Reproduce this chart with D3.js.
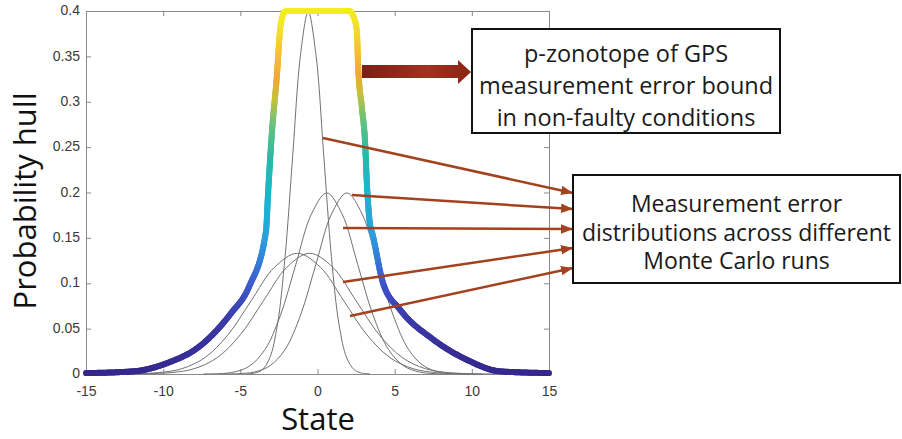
<!DOCTYPE html>
<html>
<head>
<meta charset="utf-8">
<script src="https://cdn.jsdelivr.net/npm/d3@7"></script>
<style>
  body { margin: 0; background: #fff; }
  svg text { font-family: "Open Sans", sans-serif; }
  .axis text { font-family: "Liberation Sans", Arial, sans-serif; font-size: 14px; fill: #3a3a3a; }
  .axis path, .axis line { stroke: #8a8a8a; }
</style>
</head>
<body>
<svg id="chart" width="902" height="439"></svg>
<script>

var xTicks = [-15, -10, -5, 0, 5, 10, 15]
var yTicks = [0, 0.05, 0.1, 0.15, 0.2, 0.25, 0.3, 0.35, 0.4]

// upper envelope (p-zonotope hull)
var hullX = [-15, -11.9, -9.75, -7.6, -5.6, -4.44, -3.34, -3.2, -2.95, -2.63, -2.43, -2.25, -2.05,
             2.05, 2.3, 2.55, 2.63, 2.88, 3.08, 3.2, 3.4, 3.55, 4.25, 5.35, 7.5, 9.7, 11.8, 15]
var hullY = [0.001, 0.003, 0.012, 0.031, 0.067, 0.096, 0.157, 0.2, 0.267, 0.329, 0.378, 0.395, 0.4,
             0.4, 0.395, 0.378, 0.34, 0.293, 0.256, 0.21, 0.165, 0.155, 0.1, 0.071, 0.038, 0.0155, 0.003, 0.001]

// thin curves: error distributions of the Monte Carlo runs
var runX = [
  [-4.6, -4.1, -3.6, -3.1, -2.6, -2.1, -1.6, -1.1, -0.6, -0.1, 0.4, 0.9, 1.4, 1.9, 2.4, 2.9, 3.4],
  [-7.4, -6.4, -5.4, -4.4, -3.4, -2.4, -1.4, -0.4, 0.6, 1.6, 2.6, 3.6, 4.6, 5.6, 6.6, 7.6, 8.6],
  [-6.1, -5.1, -4.1, -3.1, -2.1, -1.1, -0.1, 0.9, 1.9, 2.9, 3.9, 4.9, 5.9, 6.9, 7.9, 8.9, 9.9],
  [-13.3, -11.8, -10.3, -8.8, -7.3, -5.8, -4.3, -2.8, -1.3, 0.2, 1.7, 3.2, 4.7, 6.2, 7.7, 9.2, 10.7],
  [-12.5, -11, -9.5, -8, -6.5, -5, -3.5, -2, -0.5, 1, 2.5, 4, 5.5, 7, 8.5, 10, 11.5]
]
var runY = [
  [0.0001, 0.0009, 0.0044, 0.0175, 0.054, 0.1295, 0.242, 0.352, 0.399, 0.352, 0.242, 0.1295, 0.054, 0.0175, 0.0044, 0.0009, 0.0001],
  [0.0001, 0.0004, 0.0022, 0.0088, 0.027, 0.0648, 0.121, 0.176, 0.1995, 0.176, 0.121, 0.0648, 0.027, 0.0088, 0.0022, 0.0004, 0.0001],
  [0.0001, 0.0004, 0.0022, 0.0088, 0.027, 0.0648, 0.121, 0.176, 0.1995, 0.176, 0.121, 0.0648, 0.027, 0.0088, 0.0022, 0.0004, 0.0001],
  [0, 0.0003, 0.0015, 0.0058, 0.018, 0.0432, 0.0807, 0.1174, 0.133, 0.1174, 0.0807, 0.0432, 0.018, 0.0058, 0.0015, 0.0003, 0],
  [0, 0.0003, 0.0015, 0.0058, 0.018, 0.0432, 0.0807, 0.1174, 0.133, 0.1174, 0.0807, 0.0432, 0.018, 0.0058, 0.0015, 0.0003, 0]
]

var boxTop = ['p-zonotope of GPS', 'measurement error bound', 'in non-faulty conditions']
var boxRuns = ['Measurement error', 'distributions across different', 'Monte Carlo runs']


var svg = d3.select('#chart')
var pLeft = 86, pRight = 549, pTop = 11, pBottom = 374

var x = d3.scaleLinear().domain([-15, 15]).range([pLeft, pRight])
var y = d3.scaleLinear().domain([0, 0.4]).range([pBottom, pTop])

// parula-ish colours along the height of the hull
var color = d3.scaleLinear()
  .domain([0, 0.06, 0.1, 0.15, 0.2, 0.24, 0.28, 0.305, 0.33, 0.36, 0.385, 0.4])
  .range(['#35278c', '#3a3aa8', '#3e58cc', '#2b9fe0', '#18b8cc', '#25bba8', '#6ec27a',
          '#c2c23c', '#f4a834', '#f6c632', '#f3e42a', '#f3ee1c'])

var defs = svg.append('defs')
defs.append('marker')
  .attr('id', 'head')
  .attr('markerUnits', 'userSpaceOnUse')
  .attr('markerWidth', 13).attr('markerHeight', 10)
  .attr('refX', 12).attr('refY', 4.75)
  .attr('orient', 'auto')
  .append('path').attr('d', 'M0,0 L12,4.75 L0,9.5 Z').attr('fill', '#a3421e')

var grad = defs.append('linearGradient').attr('id', 'bigArrow')
grad.append('stop').attr('offset', '0%').attr('stop-color', '#7a2015')
grad.append('stop').attr('offset', '60%').attr('stop-color', '#a0321f')
grad.append('stop').attr('offset', '100%').attr('stop-color', '#8a2414')

// axes, ticks pointing inward on all four sides
var xAxisG = svg.append('g').attr('class', 'axis')
  .attr('transform', `translate(0,${pBottom})`)
  .call(d3.axisBottom(x).tickValues(xTicks).tickSizeInner(-5).tickSizeOuter(0).tickPadding(12).tickFormat(d => String(d)))
svg.append('g').attr('class', 'axis')
  .attr('transform', `translate(0,${pTop})`)
  .call(d3.axisTop(x).tickValues(xTicks).tickSizeInner(-5).tickSizeOuter(0).tickFormat(''))
var yAxisG = svg.append('g').attr('class', 'axis')
  .attr('transform', `translate(${pLeft},0)`)
  .call(d3.axisLeft(y).tickValues(yTicks).tickSizeInner(-5).tickSizeOuter(0).tickPadding(6).tickFormat(d => String(d)))
svg.append('g').attr('class', 'axis')
  .attr('transform', `translate(${pRight},0)`)
  .call(d3.axisRight(y).tickValues(yTicks).tickSizeInner(-5).tickSizeOuter(0).tickFormat(''))

xAxisG.selectAll('text').attr('dy', null).attr('dominant-baseline', 'hanging')
yAxisG.selectAll('text').attr('dy', null).attr('dominant-baseline', 'middle')

// thin run curves
var line = d3.line().x(d => x(d[0])).y(d => y(d[1])).curve(d3.curveCatmullRom)
runX.forEach((xs, i) => {
  svg.append('path')
    .attr('d', line(xs.map((v, j) => [v, runY[i][j]])))
    .attr('fill', 'none').attr('stroke', '#747070').attr('stroke-width', 1)
})

// hull, coloured by height
var hullLine = d3.line().x(d => x(d[0])).y(d => y(d[1])).curve(d3.curveMonotoneX)
var hidden = svg.append('path').attr('d', hullLine(hullX.map((v, i) => [v, hullY[i]])))
  .attr('fill', 'none').attr('stroke', 'none')
var node = hidden.node(), L = node.getTotalLength(), n = Math.ceil(L / 2)
var pts = d3.range(n + 1).map(i => node.getPointAtLength(L * i / n))
var hullG = svg.append('g')
pts.slice(1).forEach((p, i) => {
  var q = pts[i]
  hullG.append('line')
    .attr('x1', q.x).attr('y1', q.y).attr('x2', p.x).attr('y2', p.y)
    .attr('stroke', color(y.invert((p.y + q.y) / 2)))
    .attr('stroke-width', 6).attr('stroke-linecap', 'round')
})

// thin arrows to the runs box
var arrows = [[323, 138, 573, 193], [352, 195, 573, 209], [343, 228, 573, 229], [343, 282, 573, 248], [350, 316, 573, 268]]
svg.selectAll('line.arr').data(arrows).enter().append('line')
  .attr('x1', d => d[0]).attr('y1', d => d[1]).attr('x2', d => d[2]).attr('y2', d => d[3])
  .attr('stroke', '#a3421e').attr('stroke-width', 2.5).attr('marker-end', 'url(#head)')

// big arrow to the hull box
svg.append('path')
  .attr('d', 'M362,65 L458,65 L458,60 L471,72 L458,84 L458,78 L362,78 Z')
  .attr('fill', 'url(#bigArrow)')

function textBox(x0, y0, w, h, lines, cy, lh, fs){
  svg.append('rect').attr('x', x0).attr('y', y0).attr('width', w).attr('height', h)
    .attr('fill', '#fff').attr('stroke', '#111').attr('stroke-width', 2)
  svg.selectAll(null).data(lines).enter().append('text')
    .attr('x', x0 + w / 2).attr('y', (d, i) => cy + i * lh)
    .attr('text-anchor', 'middle').attr('font-size', fs).attr('fill', '#1a1a1a')
    .text(d => d)
}
textBox(472, 29, 308, 104, boxTop, 62, 32, 23.5)
textBox(573, 175, 327, 108, boxRuns, 212, 28.5, 23)

// axis titles
svg.append('text').attr('x', 318).attr('y', 430).attr('text-anchor', 'middle')
  .attr('font-size', 31).attr('fill', '#111').text('State')
svg.append('text').attr('transform', 'translate(36,201) rotate(-90)').attr('text-anchor', 'middle')
  .attr('font-size', 31).attr('fill', '#111').text('Probability hull')

</script>
</body>
</html>
